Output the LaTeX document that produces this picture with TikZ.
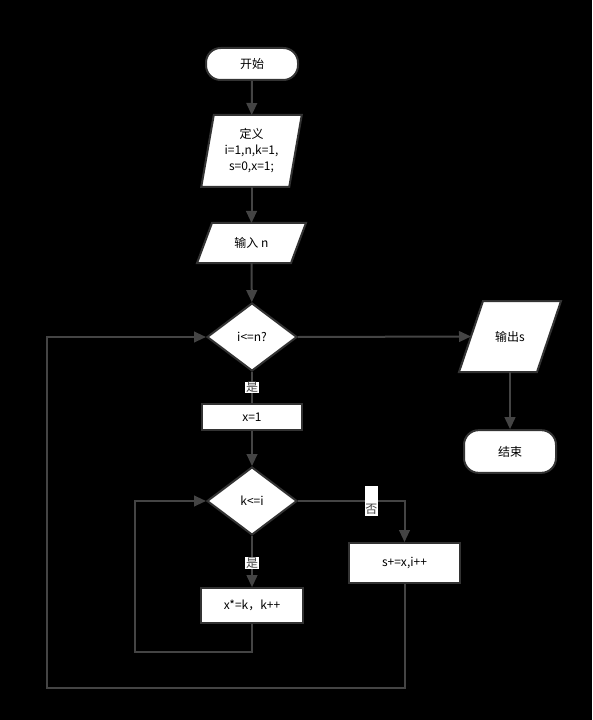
\documentclass[tikz,border=0pt]{standalone}
\usepackage{fontspec}
\setmainfont{Noto Sans CJK SC}
\usepackage{tikz}
\usetikzlibrary{arrows.meta,shapes.geometric}
\definecolor{edgeC}{HTML}{444444}
\definecolor{bordC}{HTML}{333333}
\pgfdeclarelayer{bg}
\pgfdeclarelayer{mid}
\pgfsetlayers{bg,mid,main}

\tikzset{
  frm/.style={draw=bordC,line width=1.5pt,fill=white},
  box/.style={frm,font=\fontsize{9}{12}\selectfont,inner sep=2pt,align=center},
  term/.style={box,rounded corners=11pt,minimum width=69pt},
  proc/.style={box,rectangle},
  io/.style={box,draw=none,fill=none,inner sep=0pt},
  dec/.style={box,diamond,minimum width=67.5pt,minimum height=51pt,inner sep=0pt},
  arr/.style={edgeC,line width=1.5pt,-{Triangle[length=9pt,width=8pt]}},
  lbl/.style={fill=white,inner sep=0.5pt,font=\fontsize{9}{12}\selectfont}
}
% slanted outline round an io node: #1 node, #2 half of the slant
\newcommand\paral[2]{\draw[frm] ([xshift=#2]#1.north west) -- ([xshift=#2]#1.north east)
  -- ([xshift=-#2]#1.south east) -- ([xshift=-#2]#1.south west) -- cycle;}

\begin{document}
\begin{tikzpicture}[x=0.75pt,y=-0.75pt]
  \begin{pgfonlayer}{bg}
    \fill[black] (0,0) rectangle (592,720);
  \end{pgfonlayer}
  \useasboundingbox (0,0) rectangle (592,720);
  % nodes
  \node[term,minimum height=24pt] (start) at (252,64) {开始};
  \node[io,minimum width=64.5pt,minimum height=52.5pt] (def) at (251.5,151)
    {定义\\i=1,n,k=1,\\s=0,x=1;};
  \node[io,minimum width=69pt,minimum height=28.5pt] (in) at (251.5,243) {输入 n};
  \node[dec] (c1) at (252,337) {i<=n?};
  \node[proc,minimum width=75pt,minimum height=19.5pt] (x1) at (252,417) {x=1};
  \node[dec] (kd) at (252,501) {k<=i};
  \node[proc,minimum width=76.5pt,minimum height=26pt] (xk) at (252,605.5) {x*=k，k++};
  \node[proc,minimum width=83pt,minimum height=30pt] (upd) at (404.5,563) {s+=x,i++};
  \node[io,minimum width=57pt,minimum height=51.75pt] (out) at (510,336.5) {输出s};
  \node[term,minimum height=32pt] (end) at (510,451.5) {结束};
  \coordinate (lp1) at (135,652);
  \coordinate (lp2) at (47,688);
  \begin{pgfonlayer}{mid}
    \paral{def}{4.7pt}
    \paral{in}{5.6pt}
    \paral{out}{9pt}
  \end{pgfonlayer}
  % connectors
  \draw[arr] (start) -- (def);
  \draw[arr] (def) -- (in);
  \draw[arr] (in) -- (c1);
  \draw[edgeC,line width=1.5pt] (c1) -- node[lbl] {是} (x1);
  \draw[arr] (x1) -- (kd);
  \draw[arr] (kd) -- node[lbl,pos=0.53] {是} (xk);
  \draw[arr] (kd.east) -| node[lbl,pos=0.345,text height=20pt,text depth=2pt] {否} (upd.north);
  \draw[arr] (xk.south) |- (lp1) |- (kd.west);
  \draw[arr] (upd.south) |- (lp2) |- (c1.west);
  \draw[arr] (c1.east) -- (out.west);
  \draw[arr] (out) -- (end);
\end{tikzpicture}
\end{document}
